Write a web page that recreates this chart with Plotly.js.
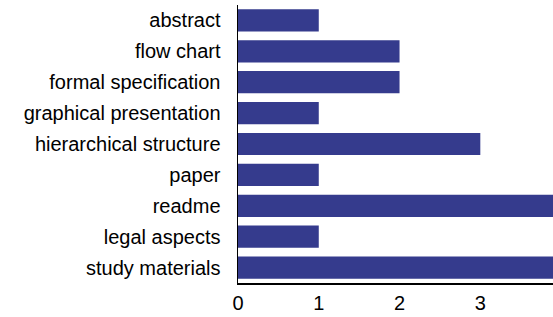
<!DOCTYPE html>
<html><head><meta charset="utf-8">
<script src="https://cdn.plot.ly/plotly-3.0.1.min.js"></script>
<style>html,body{margin:0;padding:0;background:#fff}</style>
</head><body><div id="chart" style="width:553px;height:317px"></div>
<script>
const categories = ["abstract","flow chart","formal specification","graphical presentation","hierarchical structure","paper","readme","legal aspects","study materials"];
const counts = [1,2,2,1,3,1,4,1,4];
const xTicks = [0,1,2,3];

Plotly.newPlot('chart', [{
  type:'bar', orientation:'h', x:counts, y:categories,
  marker:{color:'#353b8d'}, width:0.72, hoverinfo:'none'
}], {
  width:553, height:317,
  margin:{l:238, r:0, t:5, b:34, pad:0},
  paper_bgcolor:'#fff', plot_bgcolor:'#fff',
  font:{family:'Liberation Sans, Arial, sans-serif', size:20, color:'#000'},
  xaxis:{range:[0,3.9], tickvals:xTicks, showgrid:false, zeroline:false, showline:true, linecolor:'#000', linewidth:1.5, ticks:'', ticklabelstandoff:1},
  yaxis:{autorange:'reversed', categoryorder:'array', categoryarray:categories, showgrid:false, zeroline:false, showline:true, linecolor:'#000', linewidth:1.5, ticks:'', ticklabelstandoff:12},
  bargap:0.28, showlegend:false
}, {displayModeBar:false, staticPlot:true});
</script></body></html>
